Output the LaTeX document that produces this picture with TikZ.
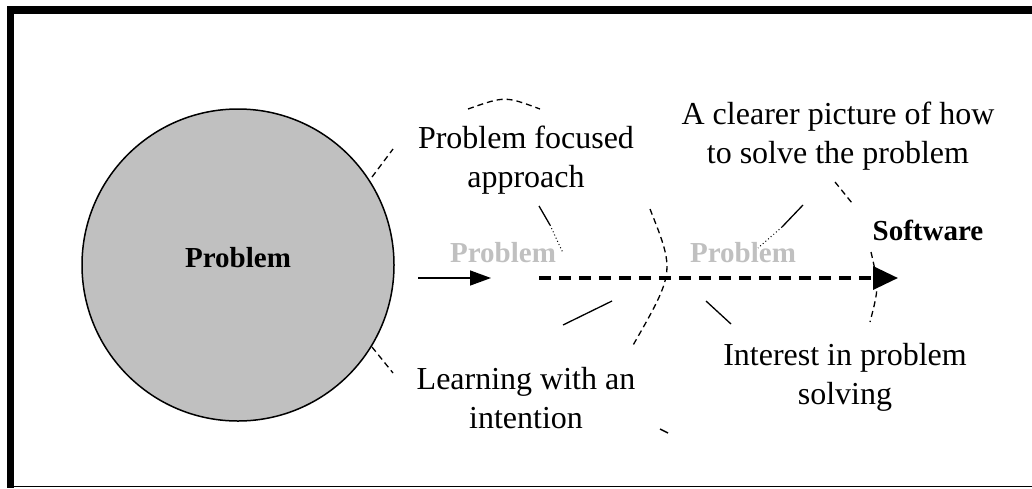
\documentclass[tikz,border=0pt]{standalone}
\usepackage{fontspec}
\setmainfont{Liberation Serif}
\usetikzlibrary{arrows.meta}
\definecolor{fillgray}{RGB}{192,192,192}
\begin{document}
\begin{tikzpicture}[x=1pt,y=-1pt,
  reg/.style={font=\fontsize{32}{39}\selectfont, align=center, inner sep=0pt},
  boldlbl/.style={font=\fontsize{29}{34}\selectfont\bfseries, inner sep=0pt},
  graylbl/.style={boldlbl, text=fillgray},
  thindash/.style={line width=1.3pt, dash pattern=on 6pt off 4pt},
  thinline/.style={line width=1.3pt},
  thindot/.style={line width=1pt, dash pattern=on 1pt off 2.5pt}]
\useasboundingbox (0,0) rectangle (1032,488);
% frame
\fill[black] (7,6) rectangle (1032,14);
\fill[black] (7,6) rectangle (14,488);
\draw[line width=1.2pt] (7,486.5) -- (1032,486.5);
% problem circle
\node[circle, draw, line width=1.5pt, fill=fillgray, minimum size=312pt, inner sep=0pt] (prob) at (238,265) {};
\node[boldlbl] (problbl) at (238,258) {Problem};
% dashed ticks at circle
\coordinate (u1) at (372,177); \coordinate (u2) at (393,149);
\coordinate (l1) at (372,347); \coordinate (l2) at (393,373);
\draw[thindash] (u1) -- (u2);
\draw[thindash] (l1) -- (l2);
% solid arrow
\coordinate (a1) at (418,278); \coordinate (a2) at (491,278);
\draw[line width=1.4pt, -{Triangle[length=21pt,width=15pt]}] (a1) -- (a2);
% dashed thick arrow
\coordinate (d1) at (539,278); \coordinate (d2) at (898,278);
\draw[line width=3.5pt, dash pattern=on 12pt off 8pt, -{Triangle[length=25pt,width=23pt]}] (d1) -- (d2);
% gray labels
\node[graylbl] (gp1) at (503,253) {Problem};
\node[graylbl] (gp2) at (743,253) {Problem};
\node[boldlbl] (soft) at (928,230) {Software};
% text labels
\node[reg] (pfa) at (526,160) {Problem focused\\approach};
\node[reg] (clear) at (838,136) {A clearer picture of how\\to solve the problem};
\node[reg] (interest) at (845,377) {Interest in problem\\solving};
\node[reg] (learn) at (526,398) {Learning with an\\intention};
% fishbone fragments
\draw[thindash] (468,109) .. controls (505,96) .. (540,109);
\draw[thinline] (539,206) -- (550,225);
\draw[thindot] (550,225) -- (563,253);
\draw[thindash] (650,209) .. controls (675,272) .. (632,347);
\draw[thinline] (612,301) -- (563,325);
\draw[thinline] (706,301) -- (731,324);
\draw[thinline] (803,205) -- (782,227);
\draw[thindot] (782,227) -- (758,248);
\draw[thindash] (835,182) -- (852,203);
\draw[thindash] (871,252) .. controls (879,287) .. (870,322);
\draw[line width=1.5pt] (660,429) -- (668,433);
\end{tikzpicture}
\end{document}
